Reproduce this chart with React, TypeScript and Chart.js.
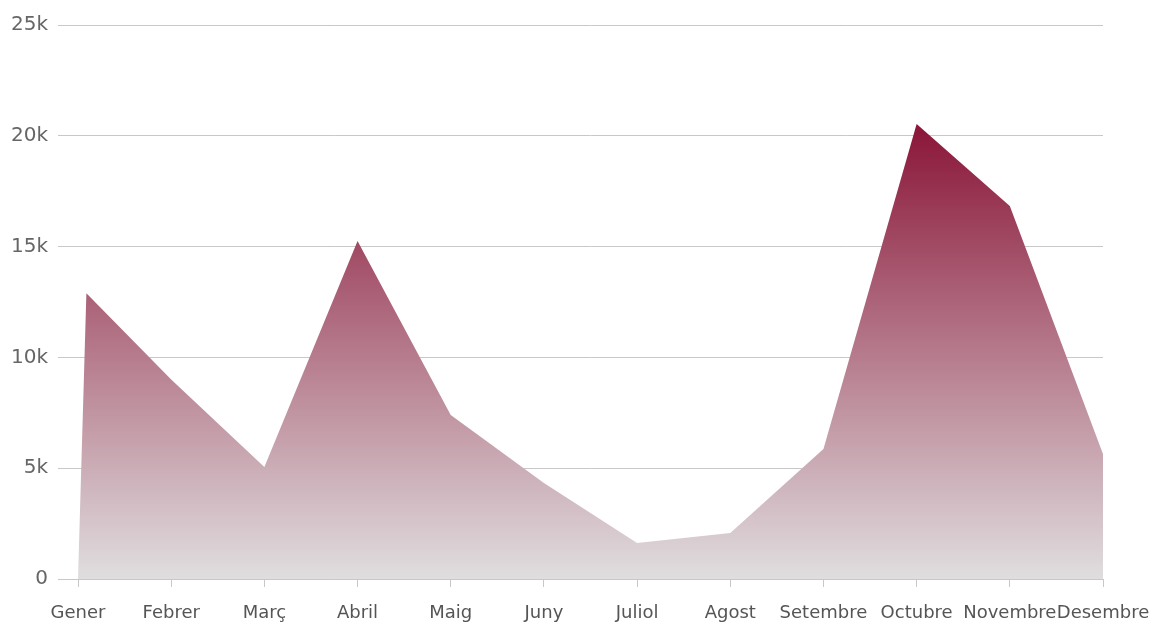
import React, { useEffect, useRef } from "react";
import { Chart, registerables } from "chart.js";

Chart.register(...registerables);

const months = ["Gener", "Febrer", "Març", "Abril", "Maig", "Juny", "Juliol", "Agost", "Setembre", "Octubre", "Novembre", "Desembre"];
const monthPositions = [0, 0.09, 1, 2, 3, 4, 5, 6, 7, 8, 9, 10, 11];
const salesValues = [0, 12900, 9000, 5050, 15250, 7400, 4330, 1620, 2080, 5870, 20530, 16830, 5640];
const yTicks = [0, 5000, 10000, 15000, 20000, 25000];

export default function App() {
  const ref = useRef<HTMLCanvasElement | null>(null);
  useEffect(() => {
    const canvas = ref.current;
    if (!canvas) return;
    const points = monthPositions.map((x, i) => ({ x, y: salesValues[i] }));
    const maxVal = Math.max(...salesValues);
    const chart = new Chart(canvas, {
      type: "line",
      data: {
        datasets: [
          {
            data: points,
            fill: "origin",
            borderWidth: 0,
            pointRadius: 0,
            tension: 0,
            backgroundColor: (ctx: any) => {
              const c = ctx.chart;
              const area = c.chartArea;
              if (!area) return "#b06070";
              const ys = c.scales.y;
              const top = ys.getPixelForValue(maxVal);
              const bottom = ys.getPixelForValue(0);
              const g = c.ctx.createLinearGradient(0, top, 0, bottom);
              g.addColorStop(0, "#8a1538");
              g.addColorStop(1, "#e0dedf");
              return g;
            },
          },
        ],
      },
      options: {
        responsive: false,
        animation: false,
        layout: { padding: { top: 25, right: 53, left: 0, bottom: 0 } },
        plugins: { legend: { display: false }, tooltip: { enabled: false } },
        scales: {
          x: {
            type: "linear",
            min: 0,
            max: 11,
            afterBuildTicks: (scale: any) => {
              scale.ticks = months.map((_, i) => ({ value: i }));
            },
            afterFit: (scale: any) => {
              scale.height = 45;
              scale.paddingLeft = 0;
              scale.paddingRight = 0;
            },
            grid: { drawOnChartArea: false, drawTicks: true, tickLength: 8, color: "#c8c8c8" },
            border: { display: true, color: "#c8c8c8" },
            ticks: {
              autoSkip: false,
              maxRotation: 0,
              minRotation: 0,
              padding: 16,
              color: "#555555",
              font: { family: "DejaVu Sans", size: 18 },
              callback: (v: any) => months[Math.round(Number(v))] ?? "",
            },
          },
          y: {
            min: 0,
            max: 25000,
            afterBuildTicks: (scale: any) => {
              scale.ticks = yTicks.map((v) => ({ value: v }));
            },
            afterFit: (scale: any) => {
              scale.width = 78;
              scale.paddingTop = 0;
              scale.paddingBottom = 0;
            },
            grid: { color: "#c8c8c8", drawTicks: true, tickLength: 20 },
            border: { display: false },
            ticks: {
              padding: 10,
              color: "#666666",
              font: { family: "DejaVu Sans", size: 20 },
              callback: (v: any) => (Number(v) === 0 ? "0" : Number(v) / 1000 + "k"),
            },
          },
        },
      },
    });
    return () => chart.destroy();
  }, []);
  return (
    <div style={{ position: "fixed", left: 0, top: 0, width: 1156, height: 624, background: "#fff" }}>
      <canvas ref={ref} width={1156} height={624} />
    </div>
  );
}
